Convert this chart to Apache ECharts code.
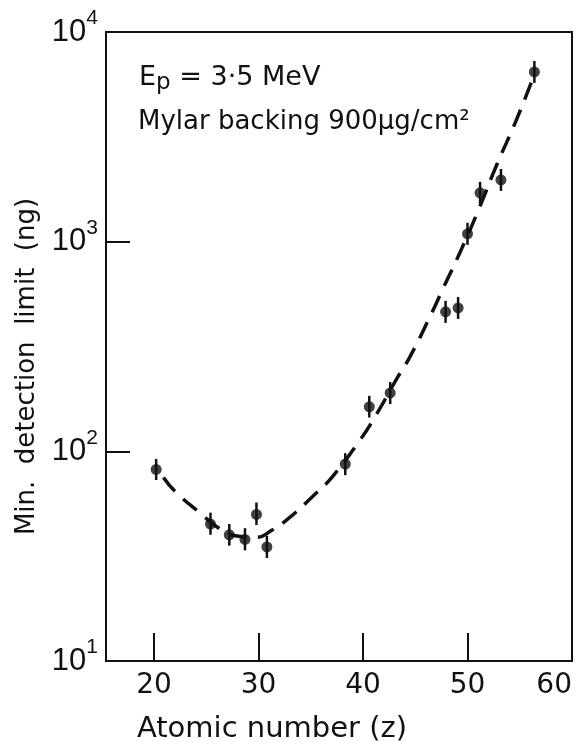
<!DOCTYPE html>
<html>
<head>
    <meta charset="UTF-8">
    <title>Min. detection limit</title>
    <script src="https://cdn.jsdelivr.net/npm/echarts@6/dist/echarts.min.js"></script>
    <style>
        html, body { margin: 0; padding: 0; background: #fff; }
    </style>
</head>
<body>
    <div id="chart" style="width:582px; height:742px;"></div>

    <script>
        // measured points (atomic number, min. detection limit in ng)
        var atomicZ = [20.2, 25.4, 27.2, 28.7, 29.8, 30.8, 38.3, 40.6, 42.6, 47.9, 49.1, 50.0, 51.2, 53.2, 56.4];
        var limitNg = [82, 45, 40, 38, 50, 35, 87, 163, 190, 463, 483, 1090, 1710, 1970, 6450];
        // error bar ends
        var errLow  = [73, 40, 35.5, 33.7, 44.5, 31, 77, 145, 168, 410, 428, 966, 1516, 1746, 5718];
        var errHigh = [92, 51, 45, 43, 57, 39.5, 98, 184, 214, 522, 545, 1230, 1930, 2222, 7276];

        // dashed fitted curve
        var curveZ = [20.9, 22.0, 24.3, 26.5, 28.1, 29.8, 31.3, 32.9, 35.2, 37.1, 39.7, 41.0, 43.3, 44.5, 46.5, 47.7, 49.4, 51.1, 52.8, 54.6, 56.2];
        var curveV = [75, 64.5, 51.3, 42.1, 39.4, 38.9, 42.1, 48, 61.1, 76, 113, 142, 225, 283, 449, 604, 916, 1436, 2326, 3727, 5907];

        var xLabels = [20, 30, 40, 50, 60];
        var xTicks = [20, 30, 40, 50];

        var points = atomicZ.map(function (z, i) { return [z, limitNg[i]]; });
        var bars = atomicZ.map(function (z, i) { return [z, errLow[i], errHigh[i]]; });
        var curve = curveZ.map(function (z, i) { return [z, curveV[i]]; });

        var ink = '#111';
        var chart = echarts.init(document.getElementById('chart'), null, {renderer: 'canvas'});

        chart.setOption({
            backgroundColor: '#fff',
            animation: false,
            title: [
                {
                    text: '{e|E}{p|p}{e| = 3·5 MeV}',
                    left: 134, top: 56,
                    textStyle: {
                        fontWeight: 'normal',
                        rich: {
                            e: {fontFamily: 'DejaVu Sans', fontSize: 27, fontWeight: 'normal', color: ink, lineHeight: 34},
                            p: {fontFamily: 'DejaVu Sans', fontSize: 23, fontWeight: 'normal', color: ink, lineHeight: 30, verticalAlign: 'bottom'}
                        }
                    }
                },
                {
                    text: 'Mylar backing 900μg/cm²',
                    left: 133, top: 104,
                    textStyle: {fontFamily: 'DejaVu Sans', fontSize: 26, fontWeight: 'normal', color: ink}
                }
            ],
            grid: {
                left: 106, right: 10, top: 32, bottom: 81,
                outerBoundsMode: 'none',
                containLabel: false,
                show: true, borderColor: ink, borderWidth: 2, backgroundColor: 'transparent'
            },
            xAxis: {
                type: 'value',
                min: 15.4, max: 60,
                name: 'Atomic number (z)',
                nameLocation: 'middle',
                nameGap: 54,
                nameTextStyle: {fontFamily: 'DejaVu Sans', fontSize: 29, color: ink, padding: [0, 134, 0, 0]},
                axisLine: {show: true, onZero: false, lineStyle: {color: ink, width: 2}},
                axisTick: {show: true, inside: true, length: 28, customValues: xTicks, lineStyle: {color: ink, width: 2}},
                axisLabel: {
                    customValues: xLabels, margin: 11, alignMaxLabel: 'right',
                    fontFamily: 'DejaVu Sans', fontSize: 28, color: ink
                },
                splitLine: {show: false}
            },
            yAxis: {
                type: 'log',
                logBase: 10,
                min: 10, max: 10000,
                name: 'Min.  detection  limit  (ng)',
                nameLocation: 'middle',
                nameGap: 66,
                nameTextStyle: {fontFamily: 'DejaVu Sans', fontSize: 26, color: ink, padding: [0, 40, 0, 0]},
                axisLine: {show: true, lineStyle: {color: ink, width: 2}},
                axisTick: {show: true, inside: true, length: 24, lineStyle: {color: ink, width: 2}},
                minorTick: {show: false},
                axisLabel: {
                    margin: 8,
                    formatter: function (v) {
                        return '{b|10}{s|' + Math.round(Math.log10(v)) + '}';
                    },
                    rich: {
                        b: {fontFamily: 'Liberation Sans', fontSize: 31, color: ink, lineHeight: 48},
                        s: {fontFamily: 'Liberation Sans', fontSize: 21, color: ink, lineHeight: 22, verticalAlign: 'top'}
                    }
                },
                splitLine: {show: false}
            },
            series: [
                {
                    type: 'line',
                    data: curve,
                    smooth: true,
                    symbol: 'none',
                    lineStyle: {color: ink, width: 3.5, type: [18, 11]},
                    z: 2
                },
                {
                    type: 'custom',
                    data: bars,
                    renderItem: function (params, api) {
                        var lo = api.coord([api.value(0), api.value(1)]);
                        var hi = api.coord([api.value(0), api.value(2)]);
                        return {
                            type: 'line',
                            shape: {x1: lo[0], y1: lo[1], x2: hi[0], y2: hi[1]},
                            style: {stroke: ink, lineWidth: 2.5}
                        };
                    },
                    z: 3
                },
                {
                    type: 'scatter',
                    data: points,
                    symbol: 'circle',
                    symbolSize: 11,
                    itemStyle: {color: ink},
                    z: 4
                }
            ]
        });
    </script>
</body>
</html>
